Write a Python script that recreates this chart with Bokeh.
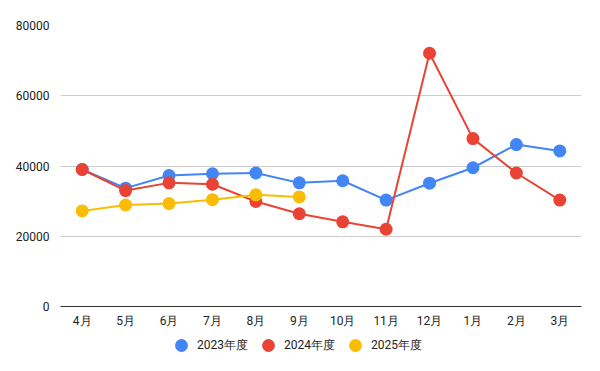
from bokeh.plotting import figure
from bokeh.layouts import column
from bokeh.models import FactorRange, Range1d, Legend, LegendItem, SingleIntervalTicker, NumeralTickFormatter
from bokeh.embed import file_html
from bokeh.resources import INLINE

months = ["4月", "5月", "6月", "7月", "8月", "9月", "10月", "11月", "12月", "1月", "2月", "3月"]
fy2023 = [39000, 33700, 37300, 37800, 38000, 35200, 35800, 30300, 35100, 39500, 46100, 44300]
fy2024 = [39000, 33000, 35200, 34800, 29900, 26400, 24100, 22000, 72100, 47800, 38000, 30300]
fy2025_months = ["4月", "5月", "6月", "7月", "8月", "9月"]
fy2025 = [27200, 28900, 29300, 30400, 31800, 31200]
series_names = ["2023年度", "2024年度", "2025年度"]
colors = ["#4285F4", "#EA4335", "#FBBC04"]

FONT = "Roboto"

p = figure(x_range=FactorRange(*months, range_padding=0), y_range=Range1d(0, 80000),
           width=592, height=330, output_backend="svg", toolbar_location=None,
           min_border_left=60, min_border_top=25, min_border_right=11, min_border_bottom=24)
p.outline_line_color = None
p.background_fill_color = "white"

p.xgrid.grid_line_color = None
p.ygrid.grid_line_color = "#cccccc"
p.ygrid.grid_line_width = 1

p.yaxis.ticker = SingleIntervalTicker(interval=20000)
p.yaxis.formatter = NumeralTickFormatter(format="0")
p.yaxis.axis_line_color = None
p.yaxis.major_tick_line_color = None
p.yaxis.minor_tick_line_color = None
p.yaxis.major_tick_out = 0
p.yaxis.major_tick_in = 0
p.yaxis.major_label_standoff = 7
p.yaxis.major_label_text_font = FONT
p.yaxis.major_label_text_font_size = "12px"
p.yaxis.major_label_text_color = "#222222"

p.xaxis.axis_line_color = "#333333"
p.xaxis.axis_line_width = 1
p.xaxis.major_tick_line_color = None
p.xaxis.minor_tick_line_color = None
p.xaxis.major_tick_out = 0
p.xaxis.major_tick_in = 0
p.xaxis.major_label_standoff = 7
p.xaxis.major_label_text_font = FONT
p.xaxis.major_label_text_font_size = "12px"
p.xaxis.major_label_text_color = "#222222"

data = [(months, fy2023), (months, fy2024), (fy2025_months, fy2025)]
for (xs, ys), name, c in zip(data, series_names, colors):
    p.line(xs, ys, line_color=c, line_width=2)
    p.scatter(xs, ys, size=13, fill_color=c, line_color=c, line_width=0)

# legend strip below the chart (series drawn outside its visible range, only keys show)
lg = figure(x_range=FactorRange(*months), y_range=Range1d(-2, -1),
            width=592, height=33, output_backend="svg", toolbar_location=None,
            x_axis_type=None, y_axis_type=None,
            min_border_left=0, min_border_top=0, min_border_right=0, min_border_bottom=0)
lg.outline_line_color = None
lg.xgrid.grid_line_color = None
lg.ygrid.grid_line_color = None
items = []
for (xs, ys), name, c in zip(data, series_names, colors):
    r = lg.scatter(xs, ys, size=13, fill_color=c, line_color=c, line_width=0)
    items.append(LegendItem(label=name, renderers=[r]))

legend = Legend(items=items, orientation="horizontal", location=(105, 2),
                border_line_color=None, background_fill_alpha=0,
                glyph_width=32, glyph_height=32, label_standoff=0, spacing=4,
                label_text_font=FONT, label_text_font_size="12px", label_text_color="#222222",
                margin=0, padding=0)
lg.add_layout(legend, "center")

layout = column(p, lg, spacing=0)
open("out.html", "w").write(file_html(layout, INLINE))
